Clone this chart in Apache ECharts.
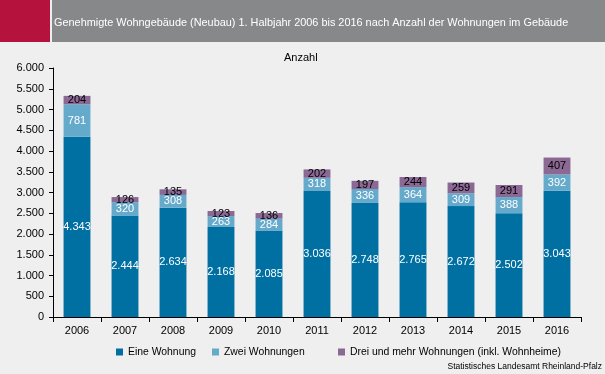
<!DOCTYPE html>
<html><head><meta charset="utf-8">
<script src="https://cdn.jsdelivr.net/npm/echarts@6/dist/echarts.min.js"></script>
<style>html,body{margin:0;padding:0;background:#eeefee;}#c{width:605px;height:374px;}</style>
</head><body><div id="c"></div>
<script>
const categories = ['2006','2007','2008','2009','2010','2011','2012','2013','2014','2015','2016'];
const eine = [4343,2444,2634,2168,2085,3036,2748,2765,2672,2502,3043];
const zwei = [781,320,308,263,284,318,336,364,309,388,392];
const drei = [204,126,135,123,136,202,197,244,259,291,407];
const seriesNames = ['Eine Wohnung','Zwei Wohnungen','Drei und mehr Wohnungen (inkl. Wohnheime)'];
const colors = ['#0070a3','#66aacb','#8b6994'];

const fmt = v => String(v).replace(/\B(?=(\d{3})+(?!\d))/g, '.');
const font = 'Liberation Sans, Arial, sans-serif';
const chart = echarts.init(document.getElementById('c'));
function mk(name, data, color, labelColor){
  return {name, type:'bar', stack:'a', data, barWidth:'56%',
    itemStyle:{color},
    label:{show:true, position:'inside', color:labelColor, fontFamily:font, fontSize:11,
      formatter:p=>fmt(p.value)}};
}
const legendLefts = [111, 207, 333];
chart.setOption({
  backgroundColor:'#eeefee',
  animation:false,
  graphic:[
    {type:'rect', shape:{x:0,y:0,width:50,height:42}, style:{fill:'#b5123d'}},
    {type:'rect', shape:{x:52,y:0,width:553,height:42}, style:{fill:'#878889'}},
    {type:'text', left:54, top:17, style:{text:'Genehmigte Wohngebäude (Neubau) 1. Halbjahr 2006 bis 2016 nach Anzahl der Wohnungen im Gebäude', fill:'#fff', font:'10.9px '+font}},
    {type:'text', left:284, top:52, style:{text:'Anzahl', fill:'#000', font:'11px '+font}},
    {type:'text', right:3, top:362, style:{text:'Statistisches Landesamt Rheinland-Pfalz', fill:'#000', font:'8.5px '+font}}
  ],
  grid:{left:53, right:24, top:68, bottom:57},
  legend: seriesNames.map((n,i)=>({data:[n], left:legendLefts[i], top:342, itemWidth:7, itemHeight:7, itemGap:0, icon:'rect',
    textStyle:{fontFamily:font, fontSize:10.4, color:'#000'}})),
  xAxis:{type:'category', data:categories,
    axisLine:{lineStyle:{color:'#000'}},
    axisTick:{show:true, alignWithLabel:false, lineStyle:{color:'#000'}, length:5},
    axisLabel:{color:'#000', fontFamily:font, fontSize:11, margin:8}},
  yAxis:{type:'value', min:0, max:6000, interval:500,
    axisLine:{show:true, lineStyle:{color:'#000'}},
    axisTick:{show:true, length:4, lineStyle:{color:'#000'}},
    splitLine:{show:false},
    axisLabel:{color:'#000', fontFamily:font, fontSize:11, margin:9, formatter:v=>fmt(v)}},
  series:[
    mk(seriesNames[0], eine, colors[0], '#fff'),
    mk(seriesNames[1], zwei, colors[1], '#fff'),
    mk(seriesNames[2], drei, colors[2], '#000')
  ]
});
</script></body></html>
